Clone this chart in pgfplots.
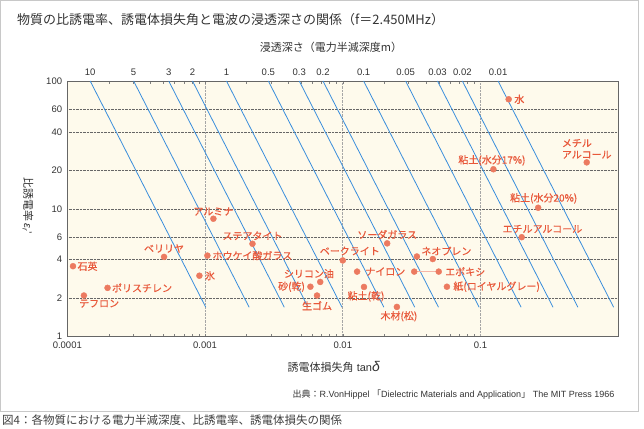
\documentclass[border=0pt]{standalone}
\usepackage{fontspec}
\setmainfont{Liberation Sans}
\newfontfamily\jp{Noto Sans CJK JP}
\newfontfamily\jplab{Noto Sans CJK JP}[FakeBold=0.4]
\usepackage{pgfplots}
\pgfplotsset{compat=1.18}
\definecolor{cream}{RGB}{254,250,236}
\definecolor{ptcol}{RGB}{236,122,96}
\definecolor{labcol}{RGB}{232,88,58}
\definecolor{linecol}{RGB}{58,142,220}
\definecolor{txt}{RGB}{51,51,51}
\definecolor{framecol}{RGB}{200,200,200}
\tikzset{lab/.style={text=labcol, font=\jplab\fontsize{10}{10}\selectfont, inner sep=0pt}}
\begin{document}
\begin{tikzpicture}
\path[use as bounding box] (0pt,0pt) rectangle (644pt,428pt);
\draw[framecol, line width=0.8pt] (0.5pt,17pt) rectangle (638pt,427.5pt);
\node[anchor=west, inner sep=0pt, text=txt, font=\jp\fontsize{13}{13}\selectfont] at (17pt,408pt) {物質の比誘電率、誘電体損失角と電波の浸透深さの関係（f＝2.450MHz）};
\node[inner sep=0pt, text=txt, font=\jp\fontsize{11}{11}\selectfont] at (331pt,381pt) {浸透深さ（電力半減深度m）};
\node[rotate=-90, inner sep=0pt, text=txt, font=\fontsize{11}{11}\selectfont] at (28pt,222pt) {{\jp 比誘電率}\,\textit{ε}\textsubscript{\textit{r}}'};
\node[anchor=west, inner sep=0pt, text=txt] at (287.5pt,61pt) {{\jp\fontsize{11}{11}\selectfont 誘電体損失角}\fontsize{11}{11}\selectfont\ tan{\fontsize{14}{14}\selectfont\itshape δ}};
\node[anchor=east, inner sep=0pt, text=txt, font=\fontsize{9}{9}\selectfont] at (614.5pt,33pt) {{\jp 出典：}R.VonHippel {\jp 「}Dielectric Materials and Application{\jp 」} The MIT Press 1966};
\node[anchor=west, inner sep=0pt, text=black!75, font=\jp\fontsize{11.5}{11.5}\selectfont] at (2pt,8pt) {図4：各物質における電力半減深度、比誘電率、誘電体損失の関係};

\begin{axis}[
 at={(67.3pt,91.3pt)}, anchor=south west,
 width=551pt, height=255.7pt, scale only axis,
 xmode=log, ymode=log, xmin=1e-4, xmax=1, ymin=1, ymax=100,
 xtick={1e-4,1e-3,1e-2,1e-1}, xticklabels={0.0001,0.001,0.01,0.1},
 ytick={1,2,4,6,10,20,40,60,100}, yticklabels={1,2,4,6,10,20,40,60,100},
 minor xtick={}, minor ytick={},
 major tick length=0pt,
 xmajorgrids, ymajorgrids,
 x grid style={densely dotted, gray!70, line width=0.6pt},
 y grid style={densely dotted, black!60, line width=0.6pt},
 axis line style={black!60, line width=0.9pt},
 axis background/.style={fill=cream},
 tick label style={font=\fontsize{9.5}{10}\selectfont, text=txt, inner sep=0pt},
 xticklabel style={yshift=-5pt},
 yticklabel style={xshift=-5pt},
 /pgf/number format/assume math mode=true,
]
% constant penetration depth lines
\addplot[linecol, line width=0.8pt] coordinates {(1.466e-4,100)(1.012e-3,1.7)};
\addplot[linecol, line width=0.8pt] coordinates {(3.03e-4,100)(2.09e-3,1.7)};
\addplot[linecol, line width=0.8pt] coordinates {(5.45e-4,100)(3.76e-3,1.7)};
\addplot[linecol, line width=0.8pt] coordinates {(8.11e-4,100)(5.60e-3,1.7)};
\addplot[linecol, line width=0.8pt] coordinates {(1.43e-3,100)(9.87e-3,1.7)};
\addplot[linecol, line width=0.8pt] coordinates {(2.88e-3,100)(1.987e-2,1.7)};
\addplot[linecol, line width=0.8pt] coordinates {(4.83e-3,100)(3.33e-2,1.7)};
\addplot[linecol, line width=0.8pt] coordinates {(7.18e-3,100)(4.95e-2,1.7)};
\addplot[linecol, line width=0.8pt] coordinates {(1.416e-2,100)(9.77e-2,1.7)};
\addplot[linecol, line width=0.8pt] coordinates {(2.857e-2,100)(0.197,1.7)};
\addplot[linecol, line width=0.8pt] coordinates {(4.87e-2,100)(0.336,1.7)};
\addplot[linecol, line width=0.8pt] coordinates {(7.38e-2,100)(0.509,1.7)};
\addplot[linecol, line width=0.8pt] coordinates {(0.134,100)(0.925,1.7)};
% epoxy range
\addplot[ptcol!55, line width=1.6pt] coordinates {(0.033,3.23)(0.0497,3.23)};
% materials
\addplot[only marks, mark=*, mark size=3pt, mark options={fill=ptcol, draw=ptcol}] coordinates {
 (0.160,72) (0.59,23.1) (0.124,20.4) (0.262,10.2) (0.199,6.0)
 (0.0210,5.37) (0.0345,4.24) (0.0450,4.05) (0.0330,3.23) (0.0497,3.23)
 (0.0570,2.46) (0.0247,1.71) (0.0127,3.23) (0.0100,3.95) (0.01425,2.45)
 (0.00686,2.68) (0.00582,2.46) (0.0065,2.10) (0.00221,5.33) (0.00104,4.31)
 (0.00091,3.0) (0.00115,8.37) (0.000504,4.21) (0.000110,3.56) (0.000196,2.41)
 (0.000132,2.10)
};
\node[lab,anchor=west,xshift=5.5pt] at (axis cs:0.160,72) {水};
\node[lab,anchor=south,yshift=3.5pt,align=left,font=\jplab\fontsize{10}{11.5}\selectfont] at (axis cs:0.59,23.1) {メチル\\アルコール};
\node[lab,anchor=south,xshift=-1.5pt,yshift=3.5pt] at (axis cs:0.124,20.4) {粘土(水分17\%)};
\node[lab,anchor=south,xshift=5.5pt,yshift=4pt] at (axis cs:0.262,10.2) {粘土(水分20\%)};
\node[lab,anchor=south,xshift=20.7pt,yshift=4pt] at (axis cs:0.199,6.0) {エチルアルコール};
\node[lab,anchor=south,yshift=4pt] at (axis cs:0.021,5.37) {ソーダガラス};
\node[lab,anchor=south west,xshift=-11.6pt,yshift=3.5pt] at (axis cs:0.045,4.05) {ネオプレン};
\node[lab,anchor=west,xshift=6.3pt] at (axis cs:0.0497,3.23) {エポキシ};
\node[lab,anchor=west,xshift=6.3pt] at (axis cs:0.057,2.46) {紙(ロイヤルグレー)};
\node[lab,anchor=north,xshift=2pt,yshift=-4pt] at (axis cs:0.0247,1.71) {木材(松)};
\node[lab,anchor=west,xshift=8pt] at (axis cs:0.0127,3.23) {ナイロン};
\node[lab,anchor=south,xshift=7pt,yshift=5pt] at (axis cs:0.01,3.95) {ベークライト};
\node[lab,anchor=north,xshift=2pt,yshift=-4pt] at (axis cs:0.01425,2.45) {粘土(乾)};
\node[lab,anchor=south,xshift=-11.3pt,yshift=3.5pt] at (axis cs:0.00686,2.68) {シリコン油};
\node[lab,anchor=east,xshift=-5.3pt] at (axis cs:0.00582,2.46) {砂(乾)};
\node[lab,anchor=north,yshift=-5.5pt] at (axis cs:0.0065,2.10) {生ゴム};
\node[lab,anchor=south,yshift=3.5pt] at (axis cs:0.00221,5.33) {ステアタイト};
\node[lab,anchor=west,xshift=5pt] at (axis cs:0.00104,4.31) {ホウケイ酸ガラス};
\node[lab,anchor=west,xshift=5.4pt] at (axis cs:0.00091,3.0) {氷};
\node[lab,anchor=south,yshift=3pt] at (axis cs:0.00115,8.37) {アルミナ};
\node[lab,anchor=south,yshift=4pt] at (axis cs:0.000504,4.21) {ベリリヤ};
\node[lab,anchor=west,xshift=4.3pt] at (axis cs:0.00011,3.56) {石英};
\node[lab,anchor=west,xshift=4.3pt] at (axis cs:0.000196,2.41) {ポリスチレン};
\node[lab,anchor=north west,xshift=-5pt,yshift=-4pt] at (axis cs:0.000132,2.10) {テフロン};
\end{axis}

\begin{axis}[
 at={(67.3pt,91.3pt)}, anchor=south west,
 width=551pt, height=255.7pt, scale only axis,
 xmode=log, ymode=log, xmin=1e-4, xmax=1, ymin=1, ymax=100,
 axis x line*=top, axis y line=none,
 axis line style={draw=none}, major tick length=0pt, minor xtick={},
 xtick={1.466e-4,3.03e-4,5.45e-4,8.11e-4,1.43e-3,2.88e-3,4.83e-3,7.18e-3,1.416e-2,2.857e-2,4.87e-2,7.38e-2,0.134},
 xticklabels={10,5,3,2,1,0.5,0.3,0.2,0.1,0.05,0.03,0.02,0.01},
 tick label style={font=\fontsize{9.5}{10}\selectfont, text=txt, inner sep=0pt},
 xticklabel style={yshift=5pt},
 /pgf/number format/assume math mode=true,
]
\addplot[draw=none] coordinates {(1e-3,10)};
\end{axis}
\end{tikzpicture}
\end{document}
